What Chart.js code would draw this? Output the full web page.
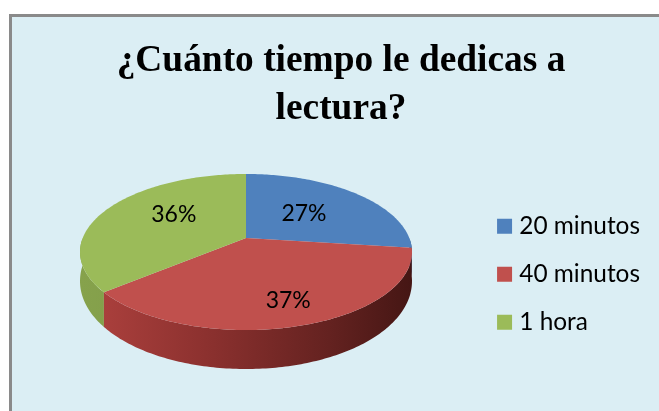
<!DOCTYPE html>
<html>
<head>
<meta charset="utf-8">
<style>
  html, body { margin: 0; padding: 0; background: #fff; overflow: hidden; }
  #panel { position: absolute; left: 9px; top: 14px; width: 700px; height: 500px; background: #dbeef4; border: 3px solid #8a8a8a; }
  #myChart { position: absolute; left: 0; top: 0; }
</style>
<script src="https://cdn.jsdelivr.net/npm/chart.js@4"></script>
</head>
<body>
<div id="panel"></div>
<canvas id="myChart" width="659" height="411"></canvas>
<script>
// data
const categories = ['20 minutos', '40 minutos', '1 hora'];
const values = [27, 37, 36];
const sliceColors = ['#4f81bd', '#c0504d', '#9bbb59'];
const titleLines = ['¿Cuánto tiempo le dedicas a', 'lectura?'];

// how the flat pie is tilted on the page
const apexX = 246, apexY = 238;
const radiusX = 163.3, radiusY = 75.5, tilt = -0.1795;
const labelRadius = [0.52, 0.75, 0.5];
const labelNudge = [[-2, 0], [3, 0], [-1, -8]];

function project(angle, r) {
    const u = Math.sin(angle) * r;
    const v = -Math.cos(angle) * r;
    const d = 1 + tilt * v;
    return { x: apexX + radiusX * u / d, y: apexY + radiusY * v / d, v: v };
}

function sideDepth(v) {
    return 27 + 12 * v;
}

function sideFill(ctx, index) {
    const g = ctx.createLinearGradient(80, 0, 412, 0);
    if (index === 2) {
        g.addColorStop(0, '#86a24c');
        g.addColorStop(1, '#6f8a3e');
    } else if (index === 1) {
        g.addColorStop(0, '#b0423f');
        g.addColorStop(0.4, '#8a302e');
        g.addColorStop(0.75, '#642220');
        g.addColorStop(1, '#451614');
    } else {
        g.addColorStop(0, '#34577f');
        g.addColorStop(1, '#34577f');
    }
    return g;
}

function arcPoints(start, end) {
    const pts = [];
    const steps = Math.max(2, Math.ceil((end - start) * 60));
    for (let i = 0; i <= steps; i++) {
        pts.push(project(start + (end - start) * i / steps, 1));
    }
    return pts;
}

// draws the slices in perspective, using the angles the library worked out
const tiltedPie = {
    id: 'tiltedPie',
    beforeDatasetDraw(chart, args) {
        const ctx = chart.ctx;
        const arcs = chart.getDatasetMeta(args.index).data;
        ctx.save();
        // sides first
        [2, 0, 1].forEach((i) => {
            const start = Math.max(arcs[i].startAngle + Math.PI / 2, Math.PI / 2);
            const end = Math.min(arcs[i].endAngle + Math.PI / 2, Math.PI * 1.5);
            if (end <= start) return;
            const pts = arcPoints(start, end);
            ctx.beginPath();
            pts.forEach((p, n) => n ? ctx.lineTo(p.x, p.y) : ctx.moveTo(p.x, p.y));
            pts.reverse().forEach((p) => ctx.lineTo(p.x, p.y + sideDepth(p.v)));
            ctx.closePath();
            ctx.fillStyle = sideFill(ctx, i);
            ctx.fill();
        });
        // then the top
        arcs.forEach((arc, i) => {
            const pts = arcPoints(arc.startAngle + Math.PI / 2, arc.endAngle + Math.PI / 2);
            ctx.beginPath();
            ctx.moveTo(apexX, apexY);
            pts.forEach((p) => ctx.lineTo(p.x, p.y));
            ctx.closePath();
            ctx.fillStyle = sliceColors[i];
            ctx.fill();
        });
        // percent labels
        ctx.fillStyle = '#000';
        ctx.font = '23px Lato';
        ctx.textAlign = 'center';
        ctx.textBaseline = 'middle';
        const total = values.reduce((a, b) => a + b, 0);
        arcs.forEach((arc, i) => {
            const mid = (arc.startAngle + arc.endAngle) / 2 + Math.PI / 2;
            const p = project(mid, labelRadius[i]);
            ctx.fillText(Math.round(values[i] / total * 100) + '%', p.x + labelNudge[i][0], p.y + labelNudge[i][1]);
        });
        ctx.restore();
        return false;
    }
};

const ctx = document.getElementById('myChart').getContext('2d');
new Chart(ctx, {
    type: 'pie',
    data: {
        labels: categories,
        datasets: [{
            data: values,
            backgroundColor: sliceColors,
            borderWidth: 0
        }]
    },
    options: {
        responsive: false,
        animation: false,
        layout: { padding: { left: 32, right: 9, top: 0, bottom: 53 } },
        plugins: {
            title: {
                display: true,
                text: titleLines,
                color: '#000',
                font: { family: 'Liberation Serif', size: 37.4, weight: 'bold', lineHeight: 1.29 },
                padding: { top: 37, bottom: 0 }
            },
            legend: {
                position: 'right',
                align: 'end',
                labels: {
                    usePointStyle: true,
                    pointStyle: 'rect',
                    boxWidth: 5,
                    boxHeight: 15,
                    padding: 23.6,
                    color: '#000',
                    font: { family: 'Lato', size: 24.4 }
                }
            },
            tooltip: { enabled: false }
        }
    },
    plugins: [tiltedPie]
});
</script>
</body>
</html>
